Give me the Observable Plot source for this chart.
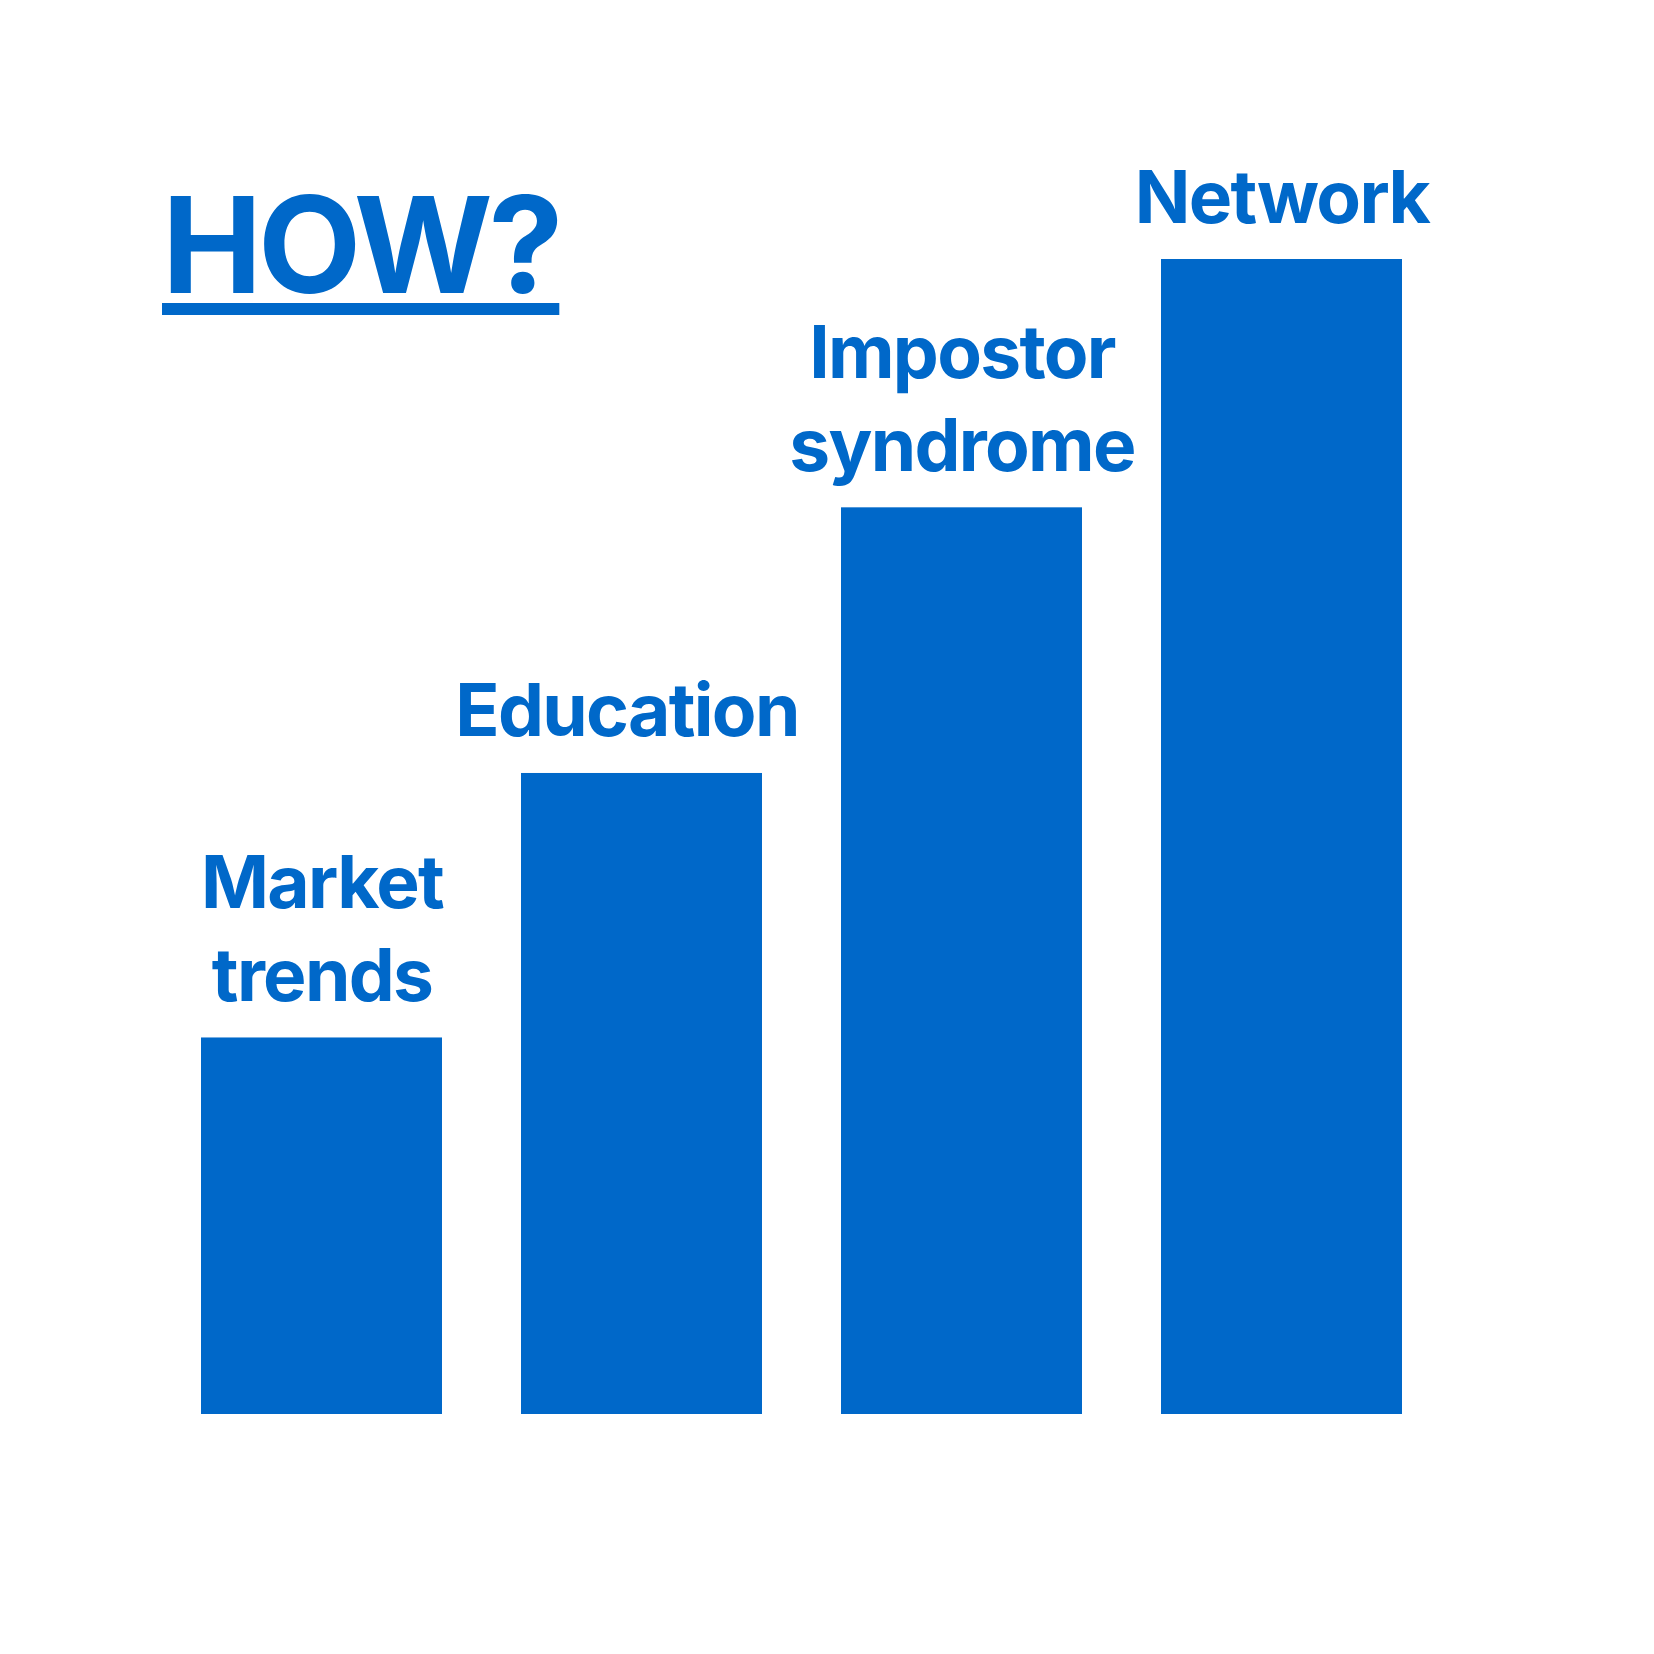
<!DOCTYPE html>
<html>
<head>
<meta charset="utf-8">
<script src="https://cdn.jsdelivr.net/npm/d3@7"></script>
<script src="https://cdn.jsdelivr.net/npm/@observablehq/plot@0.6"></script>
<style>
  html, body { margin: 0; padding: 0; background: #fff; }
  #wrap { position: relative; width: 1654px; height: 1654px; }
  #title {
    position: absolute; left: 162px; top: 177px; margin: 0;
    font-family: Inter, sans-serif; font-weight: 700; font-size: 134px; line-height: 1;
    letter-spacing: -4.2px;
    color: #0068c9;
    text-decoration: underline; text-decoration-thickness: 12px; text-underline-offset: 10px;
    text-decoration-skip-ink: none;
  }
</style>
</head>
<body>
<div id="wrap">
  <div id="chart"></div>
  <h1 id="title">HOW?</h1>
</div>
<script>
const categories = ["Market trends", "Education", "Impostor syndrome", "Network"];
const labels = ["Market\ntrends", "Education", "Impostor\nsyndrome", "Network"];
const values = [32.6, 55.5, 78.5, 100];

const data = categories.map((c, i) => ({category: c, label: labels[i], value: values[i]}));
const blue = "#0068c9";

const textOpts = {
  x: "category", y: "value", text: "label",
  dy: -37, lineAnchor: "bottom", lineHeight: 1.27,
  fill: blue, fontSize: 73, fontWeight: 700, fontFamily: "Inter, sans-serif",
  textAnchor: "middle"
};

const chart = Plot.plot({
  width: 1654,
  height: 1654,
  marginLeft: 121,
  marginRight: 172,
  marginTop: 259,
  marginBottom: 240,
  style: {background: "#fff", overflow: "visible", letterSpacing: "-1.7px"},
  x: {domain: categories, padding: 0.2464, axis: null},
  y: {domain: [0, 100], axis: null},
  marks: [
    Plot.barY(data, {x: "category", y: "value", fill: blue}),
    Plot.text(data.filter(d => d.category !== "Education"), textOpts),
    Plot.text(data.filter(d => d.category === "Education"), {...textOpts, dx: -15})
  ]
});
document.getElementById("chart").appendChild(chart);
</script>
</body>
</html>
